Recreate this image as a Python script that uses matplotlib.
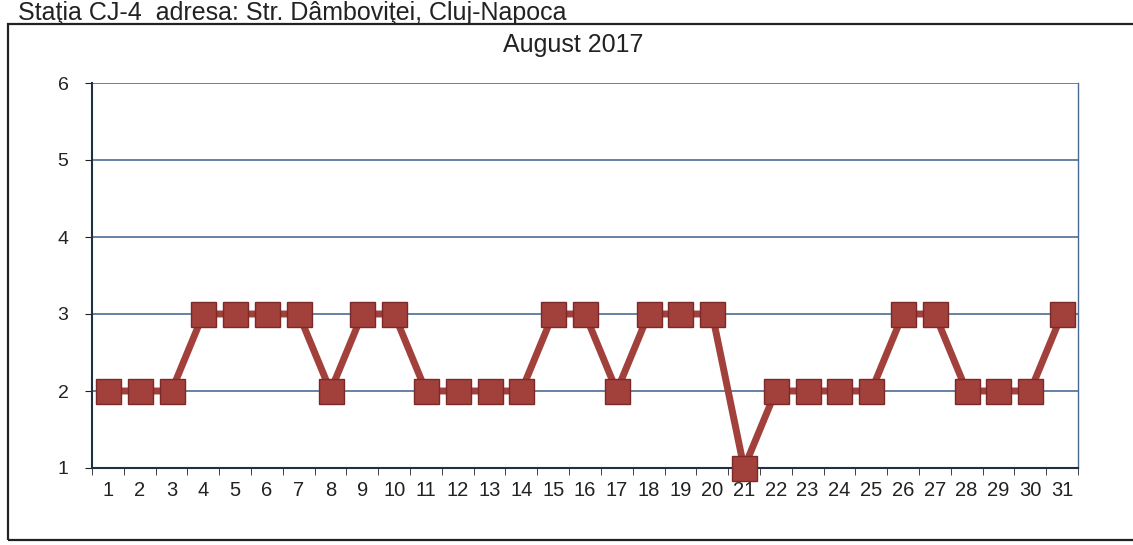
import matplotlib
matplotlib.use("Agg")
import matplotlib.pyplot as plt
from matplotlib.patches import Rectangle

days = list(range(1, 32))
values = [2, 2, 2, 3, 3, 3, 3, 2, 3, 3, 2, 2, 2, 2, 3, 3, 2, 3, 3, 3,
          1, 2, 2, 2, 2, 3, 3, 2, 2, 2, 3]
yticks = [1, 2, 3, 4, 5, 6]
title = "August 2017"
header = "Staţia CJ-4  adresa: Str. Dâmboviţei, Cluj-Napoca"

W, H = 1133, 545
fig = plt.figure(figsize=(W / 100, H / 100), dpi=100)
fig.patch.set_facecolor("white")

# outer frame of the scanned page
fig.add_artist(Rectangle((8 / W, 1 - 540 / H), 1.2, (540 - 24) / H,
                         transform=fig.transFigure, fill=False,
                         edgecolor="#222222", linewidth=1.6))
fig.text(18 / W, 1 - 1 / H, header, fontsize=18, color="#222222",
         ha="left", va="top", family="Liberation Sans")

ax = fig.add_axes([92 / W, 1 - 468 / H, (1078 - 92) / W, (468 - 83) / H])
ax.set_xlim(0.5, 31.5)
ax.set_ylim(1, 6)
ax.set_yticks(yticks)
ax.set_yticklabels([str(t) for t in yticks], fontsize=14, family="Liberation Sans")
ax.set_xticks(days)
ax.set_xticklabels([str(d) for d in days], fontsize=14.5, family="Liberation Sans")
ax.set_xticks([d + 0.5 for d in range(0, 32)], minor=True)
ax.tick_params(axis="x", which="major", length=0, pad=9, colors="#222222")
ax.tick_params(axis="x", which="minor", length=5, direction="out", color="#222222")
ax.tick_params(axis="y", length=5, direction="out", color="#222222", pad=12,
               labelcolor="#222222")
ax.spines["top"].set_visible(False)
ax.spines["left"].set_color("#1f2f45")
ax.spines["bottom"].set_color("#1f2f45")
ax.spines["right"].set_color("#4a6a90")
ax.spines["left"].set_linewidth(1.5)
ax.spines["bottom"].set_linewidth(1.5)
ax.spines["right"].set_linewidth(1.0)
for y in yticks[1:]:
    ax.axhline(y, color="#3d5f8a", linewidth=1.1, zorder=1)

ax.plot(days, values, color="#a2403c", linewidth=5, marker="s", markersize=18,
        markerfacecolor="#a2403c", markeredgecolor="#7a2a28", markeredgewidth=1,
        zorder=3, clip_on=False)

fig.text(573 / W, 1 - 45 / H, title, fontsize=18, color="#222222",
         ha="center", va="center", family="Liberation Sans")

fig.savefig("out.png", dpi=100, facecolor="white")
